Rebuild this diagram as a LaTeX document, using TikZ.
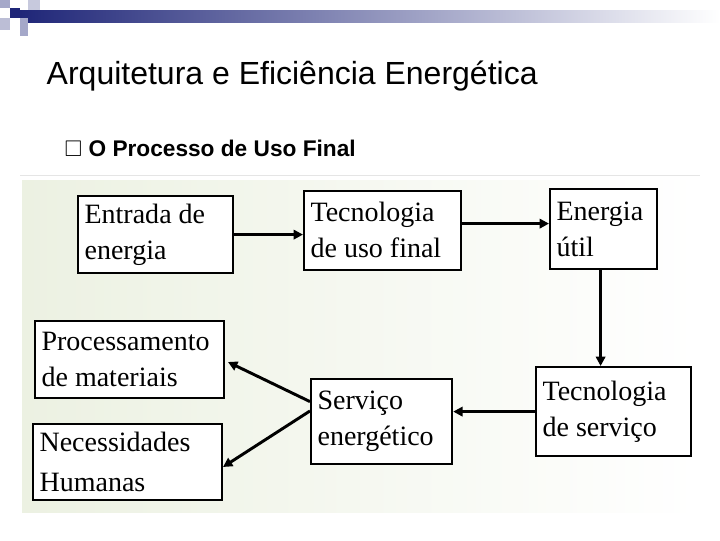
\documentclass[tikz,border=0pt]{standalone}
\usepackage{amssymb}
\usepackage{fontspec}
\setmainfont{Liberation Sans}
\newfontfamily\boxfont{Liberation Serif}
\usetikzlibrary{positioning,arrows.meta}
\definecolor{barblue}{RGB}{31,38,120}
\definecolor{panel}{RGB}{236,241,226}
\tikzset{
  caixa/.style 2 args={draw, line width=1.4pt, fill=white, inner xsep=5pt, inner ysep=2pt,
    align=flush left, text width=#1-10pt, minimum height=#2,
    font=\boxfont\fontsize{21}{27}\selectfont, anchor=north west},
  seta/.style={-{Triangle[length=7pt,width=7pt]}, line width=2.2pt}
}
\begin{document}
\begin{tikzpicture}[x=0.75pt, y=-0.75pt]
  \useasboundingbox (0,0) rectangle (720,540);
  % faixa superior
  \shade[left color=barblue, right color=white] (20,10) rectangle (720,22);
  \fill[barblue] (10,8) rectangle (20,18);
  \fill[barblue!40] (0,0) rectangle (10,8);
  \fill[barblue!40] (20,18) rectangle (28,36);
  \fill[barblue!30] (0,18) rectangle (10,30);
  \fill[barblue!25] (28,0) rectangle (40,10);
  % titulos
  \node[anchor=west, font=\fontsize{24}{28}\selectfont] (titulo) at (42,76) {Arquitetura e Efici\^encia Energ\'etica};
  \node[anchor=west, font=\bfseries\fontsize{17}{20}\selectfont] (sub) at (60,148) {$\square$ O Processo de Uso Final};
  \draw[black!10] (20,175) -- (700,175);
  % painel
  \shade[left color=panel, right color=white] (22,180) rectangle (697,512);
  % caixas
  \node[caixa={116pt}{58pt}] (entrada) at (77,195) {Entrada de\\energia};
  \node[caixa={118pt}{59pt}] (tecuso) at (303,190) {Tecnologia\\de uso final};
  \node[caixa={80pt}{60pt}] (util) at (549,188) {Energia\\\'util};
  \node[caixa={142pt}{58pt}] (proc) at (34,320) {Processamento\\de materiais};
  \node[caixa={142pt}{57pt}] (nec) at (32,423) {Necessidades\\[3pt]Humanas};
  \node[caixa={106pt}{64pt}] (serv) at (310,378) {Servi\c{c}o\\energ\'etico};
  \node[caixa={116pt}{67pt}] (tecserv) at (535,366) {Tecnologia\\de servi\c{c}o};
  % setas
  \draw[seta] (entrada.east) -- (entrada.east -| tecuso.west);
  \draw[seta] ([yshift=5pt]tecuso.east) -- ([yshift=5pt]tecuso.east -| util.west);
  \draw[seta] ([xshift=-2pt]util.south) -- ([xshift=-2pt]util.south |- tecserv.north);
  \draw[seta] (tecserv.west) -- (tecserv.west -| serv.east);
  \coordinate (p1) at (228,362);
  \coordinate (p2) at (223,467);
  \draw[seta] ([yshift=15pt]serv.west) -- (p1);
  \draw[seta] ([yshift=8pt]serv.west) -- (p2);
\end{tikzpicture}
\end{document}
